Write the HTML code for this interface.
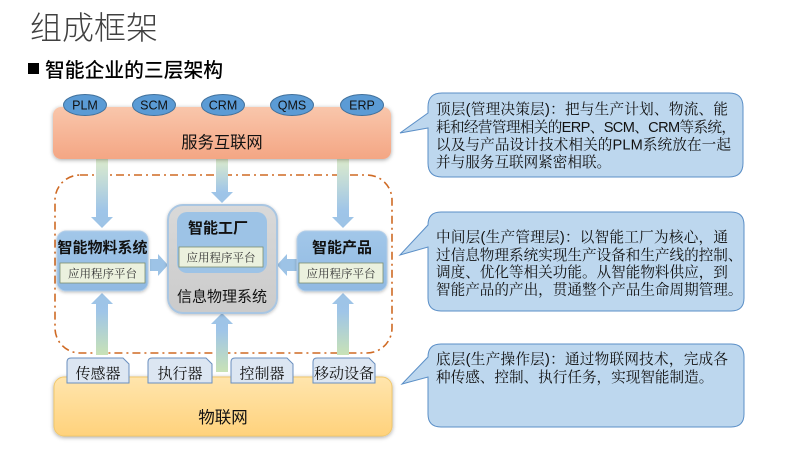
<!DOCTYPE html>
<html><head><meta charset="utf-8"><style>
html,body{margin:0;padding:0;background:#fff;}
svg{display:block;}
.sans{font-family:"Liberation Sans","Noto Sans CJK SC",sans-serif;}
.serif{font-family:"Liberation Sans","Noto Serif CJK SC",serif;}
</style></head><body>
<svg width="800" height="450" viewBox="0 0 800 450" xmlns="http://www.w3.org/2000/svg">
<defs>
  <linearGradient id="gOr" x1="0" y1="0" x2="0" y2="1"><stop offset="0" stop-color="#f9c6ab"/><stop offset="1" stop-color="#f4a684"/></linearGradient>
  <linearGradient id="gYe" x1="0" y1="0" x2="0" y2="1"><stop offset="0" stop-color="#ffe5ad"/><stop offset="1" stop-color="#ffd27c"/></linearGradient>
  <linearGradient id="gDown" x1="0" y1="0" x2="0" y2="1"><stop offset="0" stop-color="#dcebcc"/><stop offset="0.75" stop-color="#9fc5e8"/><stop offset="1" stop-color="#9dc3e6"/></linearGradient>
  <linearGradient id="gUp" x1="0" y1="0" x2="0" y2="1"><stop offset="0" stop-color="#9dc3e6"/><stop offset="0.3" stop-color="#9fc5e8"/><stop offset="1" stop-color="#c8e2b6"/></linearGradient>
  <linearGradient id="gBl" x1="0" y1="0" x2="0" y2="1"><stop offset="0" stop-color="#a2c7e9"/><stop offset="1" stop-color="#90b9e2"/></linearGradient>
  <linearGradient id="gGr" x1="0" y1="0" x2="0" y2="1"><stop offset="0" stop-color="#d9d9d9"/><stop offset="1" stop-color="#cbcbcb"/></linearGradient>
  <filter id="sh" x="-10%" y="-20%" width="120%" height="140%"><feDropShadow dx="0" dy="1" stdDeviation="2" flood-color="#000" flood-opacity="0.35"/></filter>
  <filter id="sh2" x="-10%" y="-20%" width="120%" height="140%"><feDropShadow dx="0" dy="1" stdDeviation="1.5" flood-color="#000" flood-opacity="0.25"/></filter>
</defs>

<!-- Title -->
<text x="30" y="39" class="sans" font-size="32" font-weight="300" fill="#404040">组成框架</text>
<rect x="28" y="63" width="11" height="11" fill="#000"/>
<text x="45" y="77" class="sans" font-size="19.8" font-weight="500" fill="#000">智能企业的三层架构</text>

<!-- Dashed frame -->
<rect x="55" y="175" width="337" height="178" rx="25" ry="25" fill="none" stroke="#cf6a24" stroke-width="1.6" stroke-dasharray="8 4 2 4"/>

<!-- Arrows -->
<path d="M96 159 H108 V217 H113 L102 228 L91 217 H96 Z" fill="url(#gDown)"/>
<path d="M216 159 H228 V192 H233 L222 203 L211 192 H216 Z" fill="url(#gDown)"/>
<path d="M337 159 H349 V217 H354 L343 228 L332 217 H337 Z" fill="url(#gDown)"/>
<path d="M96 355 V304 H91 L102 293 L113 304 H108 V355 Z" fill="url(#gUp)"/>
<path d="M216 372 V324 H211 L222 313 L233 324 H228 V372 Z" fill="url(#gUp)"/>
<path d="M337 355 V304 H332 L343 293 L354 304 H349 V355 Z" fill="url(#gUp)"/>
<path d="M150 259 H158 V254 L168 265 L158 276 V271 H150 Z" fill="#9dc3e6"/>
<path d="M297 259 H287 V254 L277 265 L287 276 V271 H297 Z" fill="#9dc3e6"/>

<!-- Top service internet -->
<rect x="53" y="107" width="338" height="52" rx="8" fill="url(#gOr)" filter="url(#sh)"/>
<text x="222" y="148" class="sans" font-size="16.3" text-anchor="middle" fill="#111">服务互联网</text>
<g class="sans" font-size="12.5" text-anchor="middle" fill="#111">
  <ellipse cx="85" cy="105" rx="21.5" ry="10.5" fill="#5b9bd5" stroke="#41719c" stroke-width="1"/>
  <text x="85" y="109.5">PLM</text>
  <ellipse cx="154" cy="105" rx="21.5" ry="10.5" fill="#5b9bd5" stroke="#41719c" stroke-width="1"/>
  <text x="154" y="109.5">SCM</text>
  <ellipse cx="223" cy="105" rx="21.5" ry="10.5" fill="#5b9bd5" stroke="#41719c" stroke-width="1"/>
  <text x="223" y="109.5">CRM</text>
  <ellipse cx="292" cy="105" rx="21.5" ry="10.5" fill="#5b9bd5" stroke="#41719c" stroke-width="1"/>
  <text x="292" y="109.5">QMS</text>
  <ellipse cx="362" cy="105" rx="21.5" ry="10.5" fill="#5b9bd5" stroke="#41719c" stroke-width="1"/>
  <text x="362" y="109.5">ERP</text>
</g>

<!-- Left box -->
<rect x="57" y="231" width="91" height="60" rx="9" fill="url(#gBl)" stroke="#b4cfe9" stroke-width="1" filter="url(#sh2)"/>
<text x="102.5" y="252.5" class="sans" font-size="15" font-weight="bold" text-anchor="middle" fill="#111">智能物料系统</text>
<rect x="60" y="263" width="85" height="20" fill="#ebf1de" stroke="#7d8f70" stroke-width="0.8"/>
<text x="102.5" y="277.5" class="serif" font-size="11.5" text-anchor="middle" fill="#333">应用程序平台</text>

<!-- Right box -->
<rect x="297" y="231" width="90" height="60" rx="9" fill="url(#gBl)" stroke="#b4cfe9" stroke-width="1" filter="url(#sh2)"/>
<text x="342" y="252.5" class="sans" font-size="15" font-weight="bold" text-anchor="middle" fill="#111">智能产品</text>
<rect x="299" y="263" width="84" height="20" fill="#ebf1de" stroke="#7d8f70" stroke-width="0.8"/>
<text x="341" y="277.5" class="serif" font-size="11.5" text-anchor="middle" fill="#333">应用程序平台</text>

<!-- Center CPS box -->
<rect x="168" y="205" width="109" height="108" rx="15" fill="url(#gGr)" stroke="#a9c6e2" stroke-width="2" filter="url(#sh2)"/>
<rect x="177" y="212" width="90" height="61" rx="10" fill="#9dc3e6"/>
<text x="218" y="233" class="sans" font-size="15" font-weight="bold" text-anchor="middle" fill="#111">智能工厂</text>
<rect x="179" y="247" width="84" height="20" fill="#ebf1de" stroke="#7d8f70" stroke-width="0.8"/>
<text x="221" y="261.5" class="serif" font-size="11.5" text-anchor="middle" fill="#333">应用程序平台</text>
<text x="222" y="301.5" class="sans" font-size="15" text-anchor="middle" fill="#111">信息物理系统</text>

<!-- Bottom IoT -->
<rect x="54" y="377" width="338" height="59" rx="10" fill="url(#gYe)" stroke="#f1c86c" stroke-width="1" filter="url(#sh)"/>
<text x="223" y="423" class="sans" font-size="16.5" text-anchor="middle" fill="#111">物联网</text>

<g fill="#dce6f2" stroke="#6a8fbf" stroke-width="1">
  <path d="M71 358 H123 L129 364 V383 H67 V362 Q67 358 71 358 Z"/>
  <path d="M152 358 H206 L212 364 V383 H148 V362 Q148 358 152 358 Z"/>
  <path d="M235 358 H287 L293 364 V383 H231 V362 Q231 358 235 358 Z"/>
  <path d="M317 358 H369 L375 364 V383 H313 V362 Q313 358 317 358 Z"/>
</g>
<g class="serif" font-size="15" text-anchor="middle" fill="#111">
  <text x="98" y="378.5">传感器</text>
  <text x="180" y="378.5">执行器</text>
  <text x="262" y="378.5">控制器</text>
  <text x="344" y="378.5">移动设备</text>
</g>

<!-- Callouts -->
<g fill="#bdd7ee" stroke="#5b8fc7" stroke-width="1">
  <path d="M442 93 H729 Q743 93 743 107 V163 Q743 177 729 177 H442 Q428 177 428 163 V128 L400 133 L428 113 V107 Q428 93 442 93 Z"/>
  <path d="M441 212 H731 Q744 212 744 225 V298 Q744 311 731 311 H441 Q428 311 428 298 V247 L400 255 L428 225 Q428 212 441 212 Z"/>
  <path d="M441 344 H731 Q744 344 744 357 V414 Q744 427 731 427 H441 Q428 427 428 414 V377 L402 384 L428 357 Q428 344 441 344 Z"/>
</g>
<g class="serif" font-size="14.6" fill="#111">
  <text x="436" y="114" textLength="292" lengthAdjust="spacing">顶层(管理决策层)：把与生产计划、物流、能</text>
  <text x="436" y="132" textLength="300" lengthAdjust="spacing">耗和经营管理相关的ERP、SCM、CRM等系统，</text>
  <text x="436" y="149.5" textLength="295" lengthAdjust="spacing">以及与产品设计技术相关的PLM系统放在一起</text>
  <text x="436" y="167">并与服务互联网紧密相联。</text>

  <text x="436" y="242" textLength="292" lengthAdjust="spacing">中间层(生产管理层)：以智能工厂为核心，通</text>
  <text x="436" y="260">过信息物理系统实现生产设备和生产线的控制、</text>
  <text x="436" y="277">调度、优化等相关功能。从智能物料供应，到</text>
  <text x="436" y="294.5">智能产品的产出，贯通整个产品生命周期管理。</text>

  <text x="436" y="364" textLength="292" lengthAdjust="spacing">底层(生产操作层)：通过物联网技术，完成各</text>
  <text x="436" y="382">种传感、控制、执行任务，实现智能制造。</text>
</g>
</svg>
</body></html>
